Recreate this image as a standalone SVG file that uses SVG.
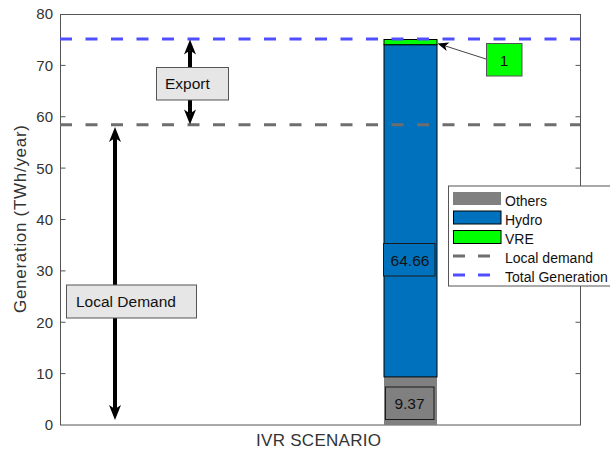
<svg xmlns="http://www.w3.org/2000/svg" width="610" height="457" viewBox="0 0 610 457">
<style>
text{font-family:"Liberation Sans",Arial,sans-serif;}
.tick{font-size:15px;fill:#333;text-anchor:end;}
.axlab{font-size:17px;fill:#333;}
.ann{font-size:15.5px;fill:#111;}
.leg{font-size:14px;fill:#111;}
.box{fill:#e6e6e6;stroke:#555;stroke-width:1;}
.ax{stroke:#555;stroke-width:1;fill:none;}
.tk{stroke:#555;stroke-width:1;}
.dashG{stroke:#6e6e6e;stroke-width:3;stroke-dasharray:12 13.5;fill:none;}
.dashB{stroke:#4f4fff;stroke-width:3;stroke-dasharray:12 13.5;fill:none;}
.shaft{stroke:#000;stroke-width:4;fill:none;}
</style>
<defs>
<marker id="bigHead" markerUnits="userSpaceOnUse" viewBox="-5 -7 17 14" refX="0" refY="0" markerWidth="17" markerHeight="14" orient="auto-start-reverse" overflow="visible">
<path d="M11,0 L-4,-6 L0,0 L-4,6 Z" fill="#000"/>
</marker>
<marker id="smallHead" markerUnits="userSpaceOnUse" viewBox="-4 -5 12 10" refX="0" refY="0" markerWidth="12" markerHeight="10" orient="auto" overflow="visible">
<path d="M7,0 L-4,-4.5 L-1,0 L-4,4.5 Z" fill="#000"/>
</marker>
</defs>
<rect width="610" height="457" fill="#fff"/>

<g id="axes">
<rect class="ax" x="60.5" y="14.5" width="520" height="410.5"/>
<g class="tk">
<line x1="60.5" y1="373.6" x2="65.5" y2="373.6"/>
<line x1="60.5" y1="322.25" x2="65.5" y2="322.25"/>
<line x1="60.5" y1="270.9" x2="65.5" y2="270.9"/>
<line x1="60.5" y1="219.5" x2="65.5" y2="219.5"/>
<line x1="60.5" y1="168.1" x2="65.5" y2="168.1"/>
<line x1="60.5" y1="116.75" x2="65.5" y2="116.75"/>
<line x1="60.5" y1="65.4" x2="65.5" y2="65.4"/>
<line x1="580.5" y1="373.6" x2="575.5" y2="373.6"/>
<line x1="580.5" y1="322.25" x2="575.5" y2="322.25"/>
<line x1="580.5" y1="270.9" x2="575.5" y2="270.9"/>
<line x1="580.5" y1="219.5" x2="575.5" y2="219.5"/>
<line x1="580.5" y1="168.1" x2="575.5" y2="168.1"/>
<line x1="580.5" y1="116.75" x2="575.5" y2="116.75"/>
<line x1="580.5" y1="65.4" x2="575.5" y2="65.4"/>
</g>
<text class="tick" x="53" y="430.4">0</text>
<text class="tick" x="53" y="379">10</text>
<text class="tick" x="53" y="327.6">20</text>
<text class="tick" x="53" y="276.3">30</text>
<text class="tick" x="53" y="224.9">40</text>
<text class="tick" x="53" y="173.5">50</text>
<text class="tick" x="53" y="122.1">60</text>
<text class="tick" x="53" y="70.8">70</text>
<text class="tick" x="53" y="19.4">80</text>
<text class="axlab" x="318.5" y="446" text-anchor="middle" textLength="125">IVR SCENARIO</text>
<text class="axlab" transform="translate(26,219) rotate(-90)" text-anchor="middle" textLength="188">Generation  (TWh/year)</text>
</g>

<g id="bar">
<rect id="others" x="384" y="376.9" width="53" height="48.1" fill="#808080"/>
<rect id="hydro" x="384" y="44.7" width="53" height="332.2" fill="#0072bd" stroke="#000" stroke-width="1"/>
<rect id="vre" x="384" y="39.5" width="53" height="5.2" fill="#00ff00" stroke="#000" stroke-width="1"/>
</g>

<g id="lines">
<line class="dashG" x1="60" y1="124.8" x2="580" y2="124.8"/>
<line class="dashB" x1="60" y1="39" x2="580" y2="39"/>
</g>

<g id="connectors">
<line class="shaft" x1="190" y1="50.5" x2="190" y2="113.5" marker-start="url(#bigHead)" marker-end="url(#bigHead)"/>
<line class="shaft" x1="115" y1="138" x2="115" y2="409" marker-start="url(#bigHead)" marker-end="url(#bigHead)"/>
<line x1="486" y1="59" x2="444.2" y2="45.6" stroke="#444" stroke-width="1" marker-end="url(#smallHead)"/>
</g>

<g id="label-hydro">
<rect x="383.5" y="243.5" width="51.5" height="32.5" fill="#0072bd" stroke="#1a1a1a" stroke-width="1"/>
<text class="ann" x="410" y="265.5" text-anchor="middle">64.66</text>
</g>
<g id="label-others">
<rect x="385.5" y="387" width="48.5" height="32.5" fill="#808080" stroke="#1a1a1a" stroke-width="1"/>
<text class="ann" x="409.5" y="408.5" text-anchor="middle">9.37</text>
</g>
<g id="label-vre">
<rect x="486.5" y="43.5" width="35.5" height="32.5" fill="#00ff00" stroke="#555" stroke-width="1"/>
<text class="ann" x="504" y="65.5" text-anchor="middle">1</text>
</g>

<g id="export">
<rect class="box" x="156.5" y="67.5" width="72" height="32.5"/>
<text class="ann" x="165" y="89">Export</text>
</g>
<g id="local-demand">
<rect class="box" x="66.5" y="285" width="130" height="33"/>
<text class="ann" x="76" y="306.5">Local Demand</text>
</g>

<g id="legend">
<rect x="448.5" y="186" width="170" height="100" fill="#fff" stroke="#555" stroke-width="1"/>
<rect x="453" y="192" width="48" height="13" fill="#808080"/>
<rect x="453.5" y="211" width="47.5" height="13" fill="#0072bd" stroke="#000" stroke-width="1"/>
<rect x="453.5" y="230.5" width="47.5" height="13" fill="#00ff00" stroke="#000" stroke-width="1"/>
<line x1="453" y1="256" x2="491" y2="256" stroke="#6e6e6e" stroke-width="3" stroke-dasharray="12 13"/>
<line x1="453" y1="275" x2="491" y2="275" stroke="#4f4fff" stroke-width="3" stroke-dasharray="12 13"/>
<text class="leg" x="505" y="206">Others</text>
<text class="leg" x="505" y="224.5">Hydro</text>
<text class="leg" x="505" y="244">VRE</text>
<text class="leg" x="505" y="262.5">Local demand</text>
<text class="leg" x="505" y="281.5">Total Generation</text>
</g>
</svg>
